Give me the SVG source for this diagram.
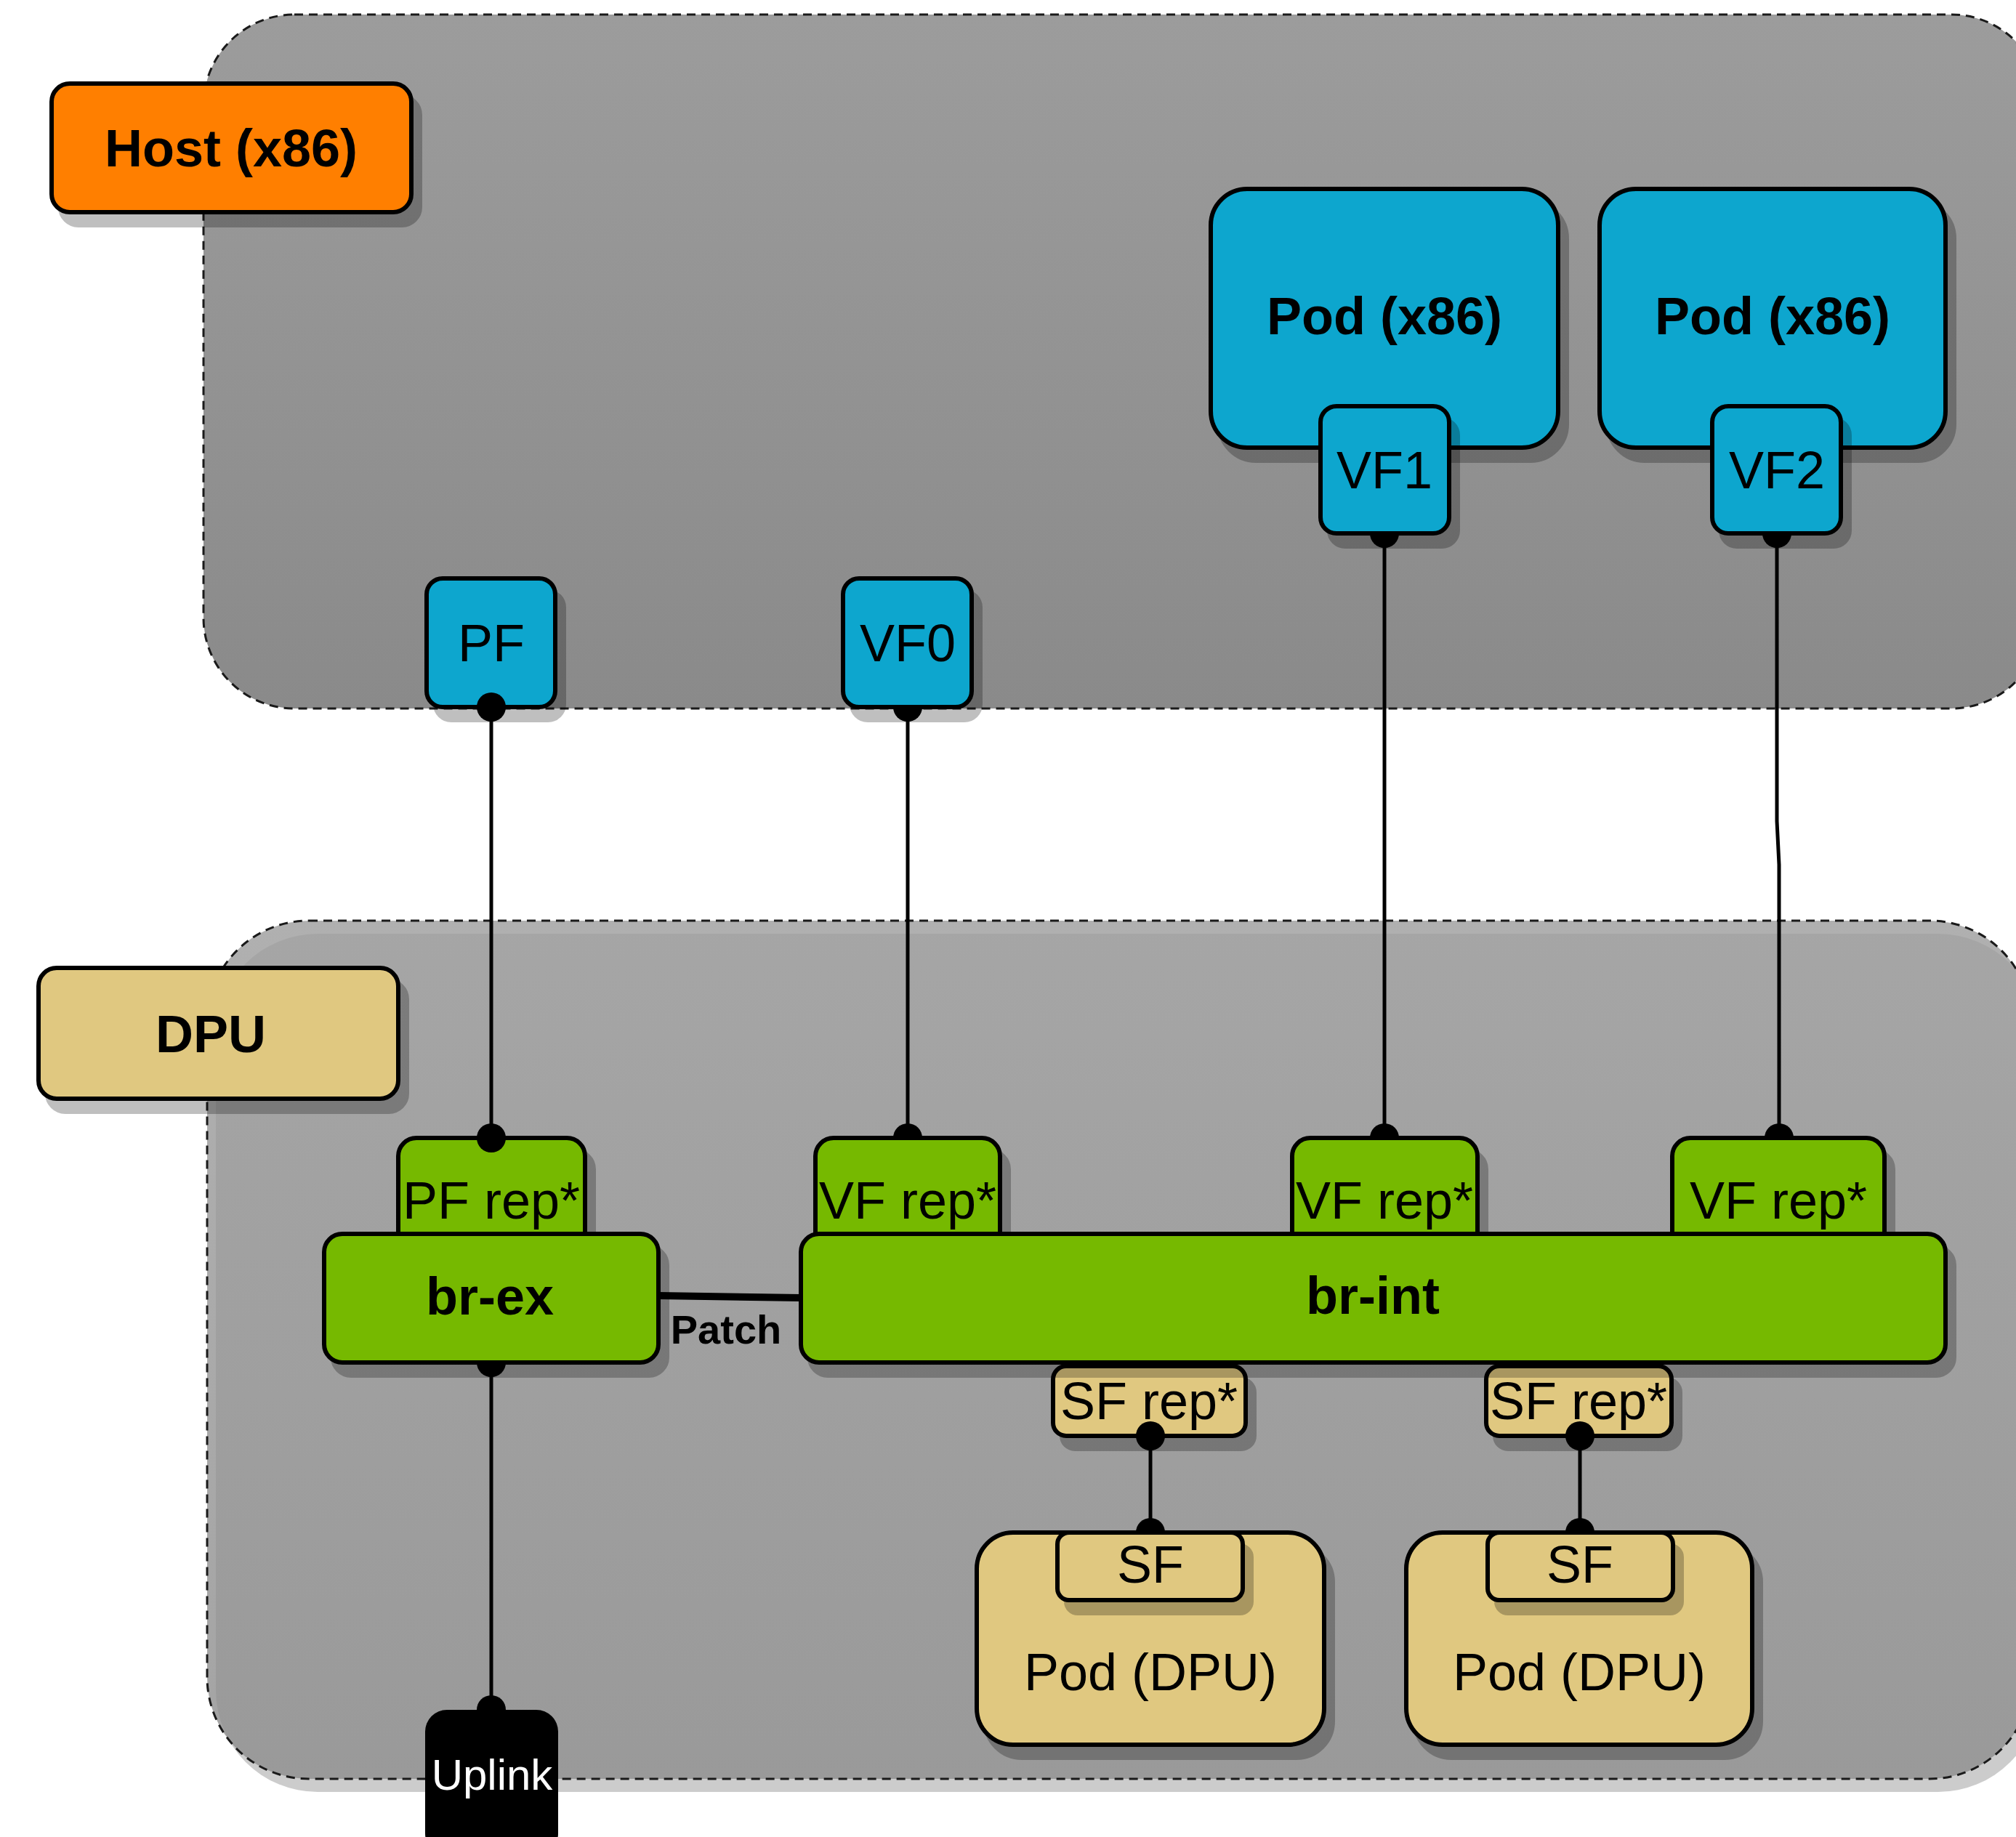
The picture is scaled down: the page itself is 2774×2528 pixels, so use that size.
<svg xmlns="http://www.w3.org/2000/svg" width="2774" height="2528" viewBox="0 0 2774 2528">
  <defs>
    <linearGradient id="hostFill" x1="0" y1="0" x2="0" y2="1">
      <stop offset="0" stop-color="#9c9c9c"/>
      <stop offset="1" stop-color="#8a8a8a"/>
    </linearGradient>
    <linearGradient id="dpuFill" x1="0" y1="0" x2="0" y2="1">
      <stop offset="0" stop-color="#9c9c9c"/>
      <stop offset="1" stop-color="#8d8d8d"/>
    </linearGradient>
    <filter id="drop" x="-15%" y="-15%" width="140%" height="150%">
      <feDropShadow dx="12" dy="18" stdDeviation="0" flood-color="#000" flood-opacity="0.25"/>
    </filter>
  </defs>
  <style>
    .box{stroke:#000;stroke-width:6;filter:url(#drop)}
    .blue{fill:#07a6ce}
    .green{fill:#76b900}
    .tan{fill:#e0c880}
    .orange{fill:#ff7f00}
    .black{fill:#000}
    text{font-family:"Liberation Sans",Arial,sans-serif;text-anchor:middle;fill:#000;font-size:72px}
    .b{font-weight:bold}
    .small{font-size:56px}
    .white{fill:#fff;font-size:60px}
    .wire{stroke:#000;stroke-width:5;fill:none}
    .thick{stroke:#000;stroke-width:10;fill:none}
    .dot{fill:#000}
    .frame{stroke:#1a1a1a;stroke-width:3;stroke-dasharray:12 8}
  </style>

  <!-- host area -->
  <g id="host-area">
    <rect class="frame" x="280" y="20" width="2530" height="955" rx="125" fill="url(#hostFill)"/>
  </g>

  <!-- DPU area with its own soft shadow -->
  <g id="dpu-area">
    <rect x="297" y="1285" width="2510" height="1181" rx="140" fill="#000" fill-opacity="0.2"/>
    <rect class="frame" x="285" y="1267" width="2510" height="1181" rx="140" fill="url(#dpuFill)" fill-opacity="0.8"/>
  </g>

  <g id="host-label">
    <rect class="box orange" x="71" y="115" width="495" height="177" rx="25"/>
    <text class="b" x="318" y="229">Host (x86)</text>
  </g>

  <g id="dpu-label">
    <rect class="box tan" x="53" y="1332" width="495" height="180" rx="25"/>
    <text class="b" x="290" y="1448">DPU</text>
  </g>

  <g id="pod-x86-1">
    <rect class="box blue" x="1666" y="260" width="478" height="356" rx="50"/>
    <text class="b" x="1905" y="460">Pod (x86)</text>
  </g>
  <g id="pod-x86-2">
    <rect class="box blue" x="2201" y="260" width="476" height="356" rx="50"/>
    <text class="b" x="2439" y="460">Pod (x86)</text>
  </g>

  <g id="vf1">
    <rect class="box blue" x="1817" y="559" width="177" height="175" rx="22"/>
    <text x="1905" y="672">VF1</text>
  </g>
  <g id="vf2">
    <rect class="box blue" x="2356" y="559" width="177" height="175" rx="22"/>
    <text x="2445" y="672">VF2</text>
  </g>

  <g id="pf">
    <rect class="box blue" x="587" y="796" width="177" height="177" rx="22"/>
    <text x="676" y="910">PF</text>
  </g>
  <g id="vf0">
    <rect class="box blue" x="1160" y="796" width="177" height="177" rx="22"/>
    <text x="1249" y="910">VF0</text>
  </g>

  <g id="pf-rep">
    <rect class="box green" x="548" y="1566" width="257" height="180" rx="25"/>
    <text x="676" y="1677">PF rep*</text>
  </g>
  <g id="vf-rep-0">
    <rect class="box green" x="1122" y="1566" width="254" height="180" rx="25"/>
    <text x="1249" y="1677">VF rep*</text>
  </g>
  <g id="vf-rep-1">
    <rect class="box green" x="1778" y="1566" width="255" height="180" rx="25"/>
    <text x="1905" y="1677">VF rep*</text>
  </g>
  <g id="vf-rep-2">
    <rect class="box green" x="2301" y="1566" width="292" height="180" rx="25"/>
    <text x="2447" y="1677">VF rep*</text>
  </g>

  <g id="sf-rep-1">
    <rect class="box tan" x="1449" y="1880" width="265" height="96" rx="18"/>
    <text x="1581" y="1953">SF rep*</text>
  </g>
  <g id="sf-rep-2">
    <rect class="box tan" x="2045" y="1880" width="255" height="96" rx="18"/>
    <text x="2172" y="1953">SF rep*</text>
  </g>

  <g id="br-ex">
    <rect class="box green" x="446" y="1698" width="460" height="177" rx="25"/>
    <text class="b" x="674" y="1809">br-ex</text>
  </g>
  <g id="br-int">
    <rect class="box green" x="1102" y="1698" width="1575" height="177" rx="25"/>
    <text class="b" x="1889" y="1808">br-int</text>
  </g>

  <g id="pod-dpu-1">
    <rect class="box tan" x="1344" y="2109" width="478" height="292" rx="50"/>
    <text x="1583" y="2326">Pod (DPU)</text>
  </g>
  <g id="sf-1">
    <rect class="box tan" x="1455" y="2109" width="255" height="93" rx="16"/>
    <text x="1583" y="2178">SF</text>
  </g>
  <g id="pod-dpu-2">
    <rect class="box tan" x="1935" y="2109" width="476" height="292" rx="50"/>
    <text x="2173" y="2326">Pod (DPU)</text>
  </g>
  <g id="sf-2">
    <rect class="box tan" x="2047" y="2109" width="255" height="93" rx="16"/>
    <text x="2174" y="2178">SF</text>
  </g>

  <g id="uplink">
    <rect class="black" x="585" y="2353" width="183" height="200" rx="30"/>
    <text class="white" x="677" y="2463">Uplink</text>
  </g>

  <!-- links between ports, with round end markers -->
  <g id="connectors">
    <line class="wire" x1="676" y1="973" x2="676" y2="1566"/>
    <line class="wire" x1="1249" y1="973" x2="1249" y2="1566"/>
    <line class="wire" x1="1905" y1="734" x2="1905" y2="1566"/>
    <polyline class="wire" points="2445,734 2445,1130 2448,1190 2448,1566"/>
    <line class="wire" x1="676" y1="1875" x2="676" y2="2353"/>
    <line class="wire" x1="1583" y1="1976" x2="1583" y2="2109"/>
    <line class="wire" x1="2174" y1="1976" x2="2174" y2="2109"/>
    <line class="thick" x1="906" y1="1783" x2="1102" y2="1786"/>
    <text class="b small" x="999" y="1849">Patch</text>

    <!-- full end dots -->
    <circle class="dot" cx="676" cy="973" r="20"/>
    <circle class="dot" cx="676" cy="1566" r="20"/>
    <circle class="dot" cx="1583" cy="1976" r="20"/>
    <circle class="dot" cx="2174" cy="1976" r="20"/>
    <!-- half dots peeking out below a port -->
    <path class="dot" d="M1229 973 A20 20 0 0 0 1269 973 Z"/>
    <path class="dot" d="M1885 734 A20 20 0 0 0 1925 734 Z"/>
    <path class="dot" d="M2425 734 A20 20 0 0 0 2465 734 Z"/>
    <path class="dot" d="M656 1875 A20 20 0 0 0 696 1875 Z"/>
    <!-- half dots sitting on top of a port -->
    <path class="dot" d="M1229 1566 A20 20 0 0 1 1269 1566 Z"/>
    <path class="dot" d="M1885 1566 A20 20 0 0 1 1925 1566 Z"/>
    <path class="dot" d="M2428 1566 A20 20 0 0 1 2468 1566 Z"/>
    <path class="dot" d="M1563 2109 A20 20 0 0 1 1603 2109 Z"/>
    <path class="dot" d="M2154 2109 A20 20 0 0 1 2194 2109 Z"/>
    <path class="dot" d="M656 2353 A20 20 0 0 1 696 2353 Z"/>
  </g>
</svg>
